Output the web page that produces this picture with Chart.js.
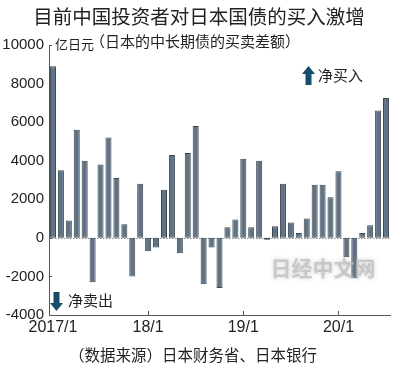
<!DOCTYPE html>
<html>
<head>
<meta charset="utf-8">
<script src="https://cdn.jsdelivr.net/npm/chart.js@4.4.0/dist/chart.umd.min.js"></script>
<style>
html,body{margin:0;padding:0;background:#fff;}
#wrap{position:relative;width:400px;height:368px;}
</style>
</head>
<body>
<div id="wrap"><canvas id="c" width="400" height="368"></canvas></div>
<script>
// Monthly categories 2017/1 .. 2020/7
const months = [
 "2017/1","2017/2","2017/3","2017/4","2017/5","2017/6","2017/7","2017/8","2017/9","2017/10","2017/11","2017/12",
 "2018/1","2018/2","2018/3","2018/4","2018/5","2018/6","2018/7","2018/8","2018/9","2018/10","2018/11","2018/12",
 "2019/1","2019/2","2019/3","2019/4","2019/5","2019/6","2019/7","2019/8","2019/9","2019/10","2019/11","2019/12",
 "2020/1","2020/2","2020/3","2020/4","2020/5","2020/6","2020/7"
];
// Net purchase of Japanese medium/long-term bonds by Chinese investors (100 million yen)
const netPurchase = [
 8900, 3500, 900, 5600, 4000, -2300, 3800, 5200, 3100, 700, -2000, 2800,
 -700, -500, 2500, 4300, -800, 4400, 5800, -2400, -500, -2600, 550, 950,
 4100, 550, 4000, -100, 600, 2800, 800, 250, 1000, 2750, 2750, 2100,
 3450, -1000, -2100, 250, 650, 6600, 7250
];
// Tick labels shown on the x axis (index in months -> label)
const xTickIndex = [0, 12, 24, 36];
const xTickLabels = ["2017/1", "18/1", "19/1", "20/1"];
const yTicks = [-4000, -2000, 0, 2000, 4000, 6000, 8000, 10000];

const CJK = '"Noto Sans CJK SC", sans-serif';
const NUM = '"Liberation Sans Narrow", "Arial Narrow", sans-serif';

const decor = {
  id: 'decor',
  beforeDatasetsDraw(chart) {
    const ctx = chart.ctx, y = chart.scales.y, a = chart.chartArea;
    ctx.save();
    const y0 = Math.round(y.getPixelForValue(0)) + 0.5;
    ctx.strokeStyle = '#8a8a8a';
    ctx.lineWidth = 1;
    ctx.setLineDash([1.5, 1.5]);
    ctx.beginPath(); ctx.moveTo(a.left, y0); ctx.lineTo(a.right, y0); ctx.stroke();
    ctx.setLineDash([]);
    ctx.restore();
  },
  afterDraw(chart) {
    const ctx = chart.ctx, y = chart.scales.y, x = chart.scales.x, a = chart.chartArea;
    ctx.save();
    ctx.strokeStyle = '#555'; ctx.lineWidth = 1;
    yTicks.forEach(v => {
      const py = Math.round(y.getPixelForValue(v)) + 0.5;
      ctx.beginPath(); ctx.moveTo(a.left, py); ctx.lineTo(a.left + 3, py); ctx.stroke();
    });
    xTickIndex.forEach(i => {
      if (i === 0) return;
      const px = Math.round(x.getPixelForValue(i)) + 0.5;
      ctx.beginPath(); ctx.moveTo(px, a.bottom); ctx.lineTo(px, a.bottom - 4); ctx.stroke();
    });
    ctx.fillStyle = '#222';
    ctx.textBaseline = 'middle';
    ctx.textAlign = 'center';
    ctx.font = '19.5px ' + CJK;
    ctx.fillText('目前中国投资者对日本国债的买入激增', 199, 17);
    ctx.textAlign = 'left';
    ctx.font = '15px ' + CJK;
    ctx.fillText('（日本的中长期债的买卖差额）', 90, 41);
    ctx.font = '13px ' + CJK;
    ctx.fillText('亿日元', 55, 44);
    ctx.font = '15.5px ' + CJK;
    ctx.fillText('（数据来源）日本财务省、日本银行', 69, 355);
    ctx.font = '15px ' + CJK;
    ctx.fillText('净买入', 318, 75);
    ctx.fillText('净卖出', 68, 300);
    ctx.fillStyle = '#164d6c';
    ctx.beginPath();
    ctx.moveTo(308.5, 66); ctx.lineTo(315, 74); ctx.lineTo(311.5, 74); ctx.lineTo(311.5, 85);
    ctx.lineTo(305.5, 85); ctx.lineTo(305.5, 74); ctx.lineTo(302, 74); ctx.closePath(); ctx.fill();
    ctx.beginPath();
    ctx.moveTo(56.5, 311); ctx.lineTo(63, 303); ctx.lineTo(59.5, 303); ctx.lineTo(59.5, 292);
    ctx.lineTo(53.5, 292); ctx.lineTo(53.5, 303); ctx.lineTo(50, 303); ctx.closePath(); ctx.fill();
    ctx.font = 'bold 21px ' + CJK;
    ctx.fillStyle = 'rgba(190,190,190,0.75)';
    ctx.shadowColor = 'rgba(150,150,150,0.6)';
    ctx.shadowBlur = 4;
    ctx.textAlign = 'center';
    ctx.fillText('日经中文网', 323, 268);
    ctx.restore();
  }
};

new Chart(document.getElementById('c'), {
  type: 'bar',
  data: {
    labels: months,
    datasets: [{
      data: netPurchase,
      backgroundColor: '#607385',
      borderColor: '#3a4752',
      borderWidth: 1,
      categoryPercentage: 1.0,
      barPercentage: 0.76,
      borderSkipped: false
    }]
  },
  options: {
    responsive: false,
    animation: false,
    devicePixelRatio: 1,
    layout: { padding: { left: 0, right: 10, top: 45, bottom: 28 } },
    plugins: { legend: { display: false }, tooltip: { enabled: false }, title: { display: false } },
    scales: {
      x: {
        offset: true,
        grid: { display: false, drawTicks: false },
        border: { display: true, color: '#555', width: 1 },
        ticks: {
          autoSkip: false, maxRotation: 0, minRotation: 0, padding: 3,
          color: '#222', font: { family: NUM, size: 16 },
          callback: (v, i) => { const k = xTickIndex.indexOf(i); return k >= 0 ? xTickLabels[k] : ''; }
        },
        afterFit: s => { s.height = 25; }
      },
      y: {
        min: -4000, max: 10000,
        afterBuildTicks: s => { s.ticks = yTicks.map(v => ({ value: v })); },
        grid: { display: false, drawTicks: false },
        border: { display: true, color: '#555', width: 1 },
        ticks: {
          padding: 5, color: '#222',
          font: { family: NUM, size: 15 },
          callback: v => String(v)
        },
        afterFit: s => { s.width = 49; }
      }
    }
  },
  plugins: [decor]
});
</script>
</body>
</html>
